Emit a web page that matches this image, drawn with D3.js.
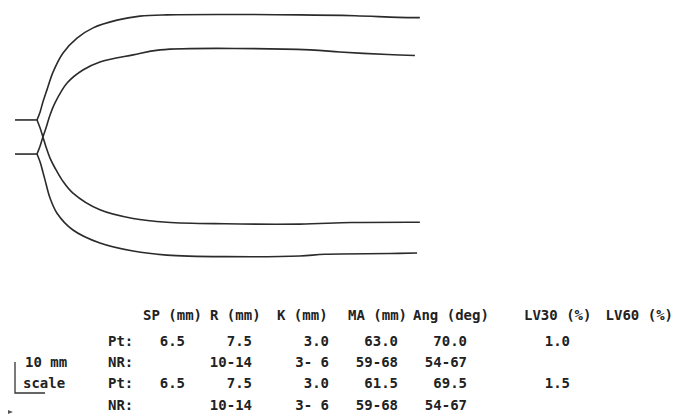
<!DOCTYPE html>
<html><head><meta charset="utf-8">
<script src="https://cdn.jsdelivr.net/npm/d3@7"></script>
<style>html,body{margin:0;padding:0;background:#fff;}svg{display:block;}</style>
</head><body>
<script>
// Profile traces (x, y in mm)
const outerTop = [[7.1,5.5],[8.1,8.1],[9.0,11.3],[10.3,15.2],[12.3,21.0],[15.5,27.1],[20.0,31.9],[25.2,35.2],[32.9,37.7],[40.3,39.0],[49.0,39.4],[91.9,39.4],[109.7,39.1],[123.5,38.6],[130.6,38.5]];
const innerTop = [[7.1,-5.5],[8.1,-2.9],[9.0,0],[10.0,2.9],[11.3,7.1],[12.9,11.0],[16.8,17.4],[21.9,21.6],[27.4,24.2],[38.1,26.5],[46.8,28.1],[95.2,28.1],[104.8,27.4],[120.3,26.6],[129.0,26.3]];
const innerBottom = [[7.1,5.5],[8.1,2.9],[9.0,0],[10.0,-3.2],[11.3,-6.8],[12.9,-10.0],[15.2,-13.9],[18.7,-18.1],[27.4,-23.5],[38.1,-26.3],[49.0,-27.5],[67.7,-28.0],[91.9,-28.1],[108.7,-27.6],[130.6,-27.5]];
const outerBottom = [[7.1,-5.5],[8.1,-8.1],[9.0,-11.3],[9.7,-13.9],[11.3,-19.7],[13.5,-24.5],[18.7,-30.0],[27.4,-34.2],[38.1,-36.8],[49.0,-38.1],[67.7,-38.6],[91.9,-38.4],[100.0,-37.8],[121.0,-37.6],[129.7,-37.4]];
const stems = [[[0,5.5],[7.1,5.5]],[[0,-5.5],[7.1,-5.5]]];
const scaleBarMm = 10;

// Table
const headers = ["SP (mm)","R (mm)","K (mm)","MA (mm)","Ang (deg)","LV30 (%)","LV60 (%)"];
const rowLabels = ["Pt:","NR:","Pt:","NR:"];
const colSP   = ["6.5","","6.5",""];
const colR    = ["7.5","10-14","7.5","10-14"];
const colK    = ["3.0","3- 6","3.0","3- 6"];
const colMA   = ["63.0","59-68","61.5","59-68"];
const colAng  = ["70.0","54-67","69.5","54-67"];
const colLV30 = ["1.0","","1.5",""];
const colLV60 = ["","","",""];
const scaleLabels = ["10 mm","scale"];

const W = 675, H = 414;
const svg = d3.select("body").append("svg").attr("width", W).attr("height", H);

const x = d3.scaleLinear().domain([0, 130]).range([15, 15 + 130*3.1]);
const y = d3.scaleLinear().domain([40, -40]).range([137 - 40*3.1, 137 + 40*3.1]);

const line = d3.line().x(d => x(d[0])).y(d => y(d[1])).curve(d3.curveCatmullRom.alpha(0.5));
const g = svg.append("g").attr("fill","none").attr("stroke","#2b2b2b").attr("stroke-width",1.6);
[outerTop, innerTop, innerBottom, outerBottom].forEach(s => g.append("path").attr("d", line(s)));
stems.forEach(s => g.append("path").attr("d", d3.line().x(d=>x(d[0])).y(d=>y(d[1]))(s)));

// scale bar
const barPx = y(0) - y(scaleBarMm);
svg.append("path").attr("fill","none").attr("stroke","#333").attr("stroke-width",1.3)
  .attr("d", `M15,${393-barPx} L15,393 L45,393`);

const font = "'DejaVu Sans Mono', 'Liberation Mono', monospace";
const t = svg.append("g").attr("font-family", font).attr("font-size", 14).attr("font-weight","bold").attr("fill","#222");
const hx = [[143,"start"],[210,"start"],[277,"start"],[348,"start"],[413,"start"],[524,"start"],[673,"end"]];
headers.forEach((h,i) => t.append("text").attr("x", hx[i][0]).attr("y", 320).attr("text-anchor",hx[i][1]).text(h));
const rowY = [346,367,388,410];
rowLabels.forEach((r,i) => t.append("text").attr("x",108).attr("y",rowY[i]).text(r));
const cols = [[colSP,185],[colR,252],[colK,329],[colMA,398],[colAng,467],[colLV30,570],[colLV60,660]];
cols.forEach(([c,rx]) => c.forEach((v,i) => { if (v) t.append("text").attr("x",rx).attr("y",rowY[i]).attr("text-anchor","end").text(v); }));
t.append("text").attr("x",25).attr("y",367).text(scaleLabels[0]);
t.append("text").attr("x",23).attr("y",388).text(scaleLabels[1]);
svg.append("path").attr("d","M8,410 L13,412 L8,414 Z").attr("fill","#555");
</script>
</body></html>
